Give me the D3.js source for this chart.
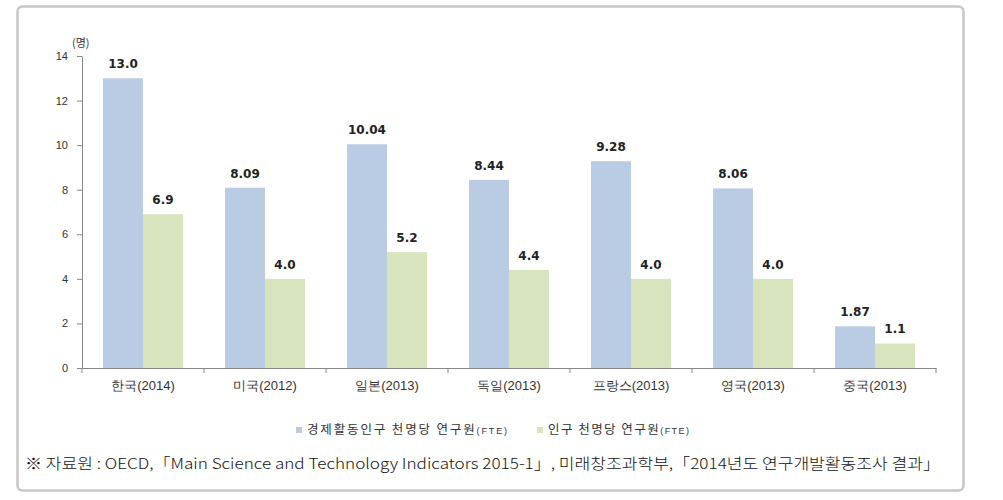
<!DOCTYPE html>
<html><head><meta charset="utf-8">
<script src="https://cdn.jsdelivr.net/npm/d3@7"></script>
<style>body{margin:0;background:#fff;}svg{display:block;font-family:"Malgun Gothic","Noto Sans CJK KR",sans-serif;}</style>
</head><body><svg id="c" width="1003" height="500"></svg>
<script>
const categories = ["한국(2014)","미국(2012)","일본(2013)","독일(2013)","프랑스(2013)","영국(2013)","중국(2013)"];
const seriesNames = ["경제활동인구 천명당 연구원","인구 천명당 연구원"];
const econActive = [13.0, 8.09, 10.04, 8.44, 9.28, 8.06, 1.87];
const population = [6.9, 4.0, 5.2, 4.4, 4.0, 4.0, 1.1];
const econLabels = ["13.0","8.09","10.04","8.44","9.28","8.06","1.87"];
const popLabels = ["6.9","4.0","5.2","4.4","4.0","4.0","1.1"];
const yTicks = [0,2,4,6,8,10,12,14];
const colors = ["#b9cce4","#d7e4bd"];

const svg = d3.select("#c");
// frame
svg.append("rect").attr("x",17.5).attr("y",6.5).attr("width",946).attr("height",484)
  .attr("rx",5).attr("fill","#fff").attr("stroke","#c8c8c8").attr("stroke-width",2.5);

const x0 = d3.scaleBand().domain(categories).range([82,936]).paddingInner(0).paddingOuter(0);
const x1 = d3.scaleBand().domain([0,1]).range([21, x0.bandwidth()-21]);
const y = d3.scaleLinear().domain([0,14]).range([368,56]);

// y axis
const ya = svg.append("g").attr("transform","translate(82,0)")
  .call(d3.axisLeft(y).tickValues(yTicks).tickSize(5).tickSizeOuter(0));
ya.select(".domain").attr("stroke","#888");
ya.selectAll(".tick line").attr("stroke","#888");
ya.selectAll("text").attr("font-size",11).attr("fill","#333").attr("font-family","Arial, sans-serif").attr("x",-14);

// x axis
const xa = svg.append("g").attr("transform","translate(0,368)")
  .call(d3.axisBottom(x0).tickSize(0).tickSizeOuter(0));
xa.select(".domain").attr("stroke","#888");
xa.selectAll("text").attr("font-size",13).attr("fill","#333").attr("dy","1.45em");
const bounds = categories.map(c=>x0(c)).concat([x0.range()[1]]);
svg.append("g").selectAll("line").data(bounds).join("line")
  .attr("x1",d=>d).attr("x2",d=>d).attr("y1",368).attr("y2",373).attr("stroke","#888");

// unit
svg.append("text").attr("x",72).attr("y",47).attr("font-size",11).attr("fill","#333").text("(명)");

const series = [econActive, population];
const labels = [econLabels, popLabels];
series.forEach((vals,si)=>{
  const g = svg.append("g");
  g.selectAll("rect").data(vals).join("rect")
    .attr("x",(d,i)=>x0(categories[i])+x1(si)).attr("width",x1.bandwidth())
    .attr("y",d=>y(d)).attr("height",d=>y(0)-y(d)).attr("fill",colors[si]);
  g.selectAll("text").data(vals).join("text")
    .attr("x",(d,i)=>x0(categories[i])+x1(si)+x1.bandwidth()/2)
    .attr("y",d=>y(d)-10).attr("text-anchor","middle")
    .attr("font-size",12).attr("font-weight","bold").attr("fill","#222")
    .attr("font-family","Verdana, 'DejaVu Sans', sans-serif")
    .text((d,i)=>labels[si][i]);
});

// legend
const legX = [296, 537];
const legLen = [200, 141];
seriesNames.forEach((n,i)=>{
  svg.append("rect").attr("x",legX[i]).attr("y",427).attr("width",6).attr("height",6).attr("fill",colors[i]);
  const t = svg.append("text").attr("x",legX[i]+11).attr("y",434).attr("font-size",12.5).attr("fill","#333")
    .attr("textLength",legLen[i]).attr("lengthAdjust","spacing");
  t.append("tspan").text(n);
  t.append("tspan").attr("font-size",9).attr("font-family","Arial, sans-serif").text("(FTE)");
});

// source
svg.append("text").attr("x",25).attr("y",469).attr("font-size",15).attr("fill","#111").attr("font-weight",300)
  .attr("textLength",915).attr("lengthAdjust","spacingAndGlyphs")
  .text("※ 자료원 : OECD,「Main Science and Technology Indicators 2015-1」, 미래창조과학부,「2014년도 연구개발활동조사 결과」");
</script></body></html>
